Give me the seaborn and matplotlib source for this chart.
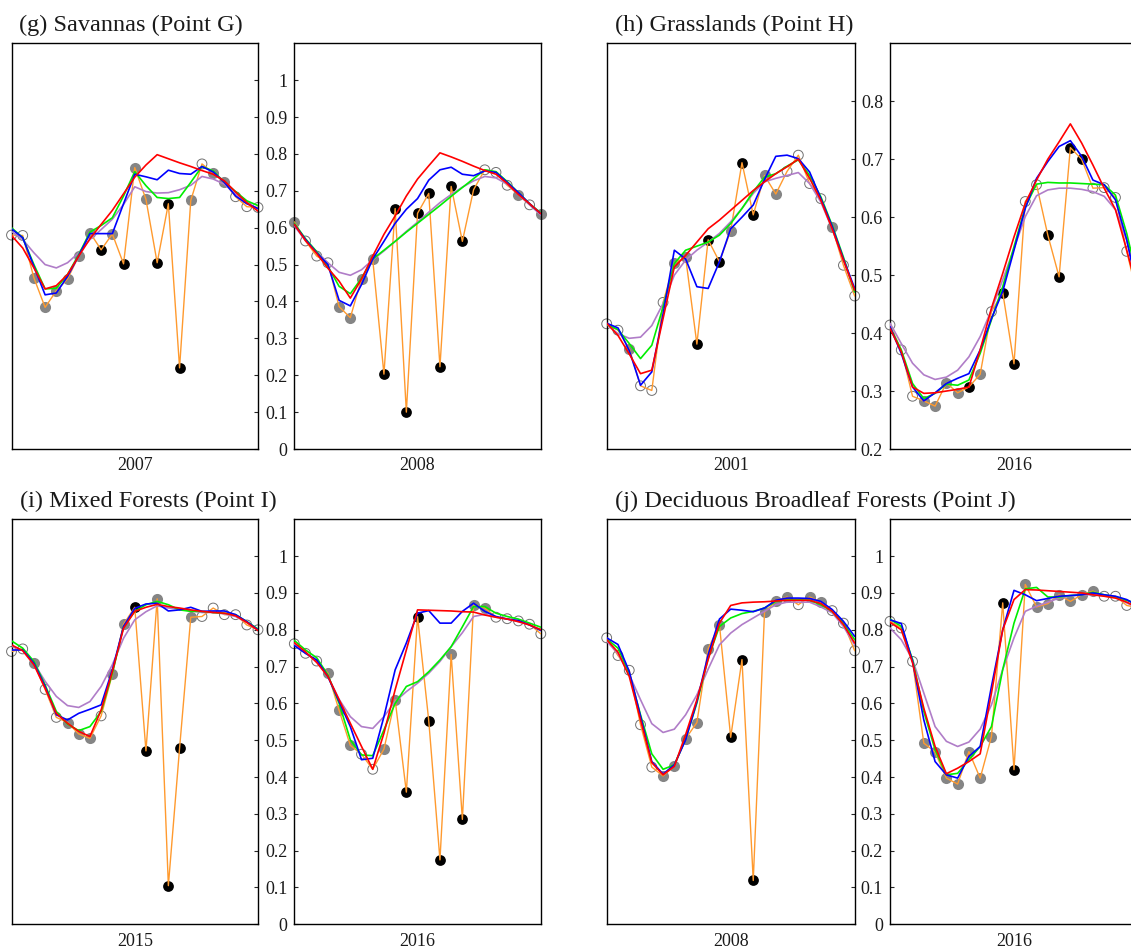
#!/usr/bin/env python3
"""
Seasonal NDVI-like time series at four sample points (g-j), two years each.
Raw observations (orange, marker = quality) and four smoothed reconstructions.

Output: out.png
"""
import matplotlib
matplotlib.use('Agg')
import matplotlib.pyplot as plt
from matplotlib.ticker import FormatStrFormatter
import pandas as pd
import seaborn as sns

# quality codes: O = open circle, G = grey dot, B = black dot
# ---- (g) Savannas ----
years_g = ['2007', '2008']
obs_g1 = [0.580, 0.579, 0.464, 0.384, 0.429, 0.461, 0.523, 0.587, 0.540, 0.583, 0.502, 0.763,
          0.677, 0.505, 0.665, 0.220, 0.674, 0.773, 0.748, 0.723, 0.684, 0.657, 0.655]
qual_g1 = 'OOGGGGGGBGBGGBBBGOGGOOO'
blue_g1 = [0.597, 0.573, 0.495, 0.418, 0.423, 0.468, 0.524, 0.584, 0.584, 0.584, 0.665, 0.745,
           0.738, 0.730, 0.756, 0.747, 0.745, 0.766, 0.751, 0.723, 0.686, 0.665, 0.652]
green_g1 = [0.600, 0.573, 0.500, 0.434, 0.436, 0.473, 0.527, 0.588, 0.606, 0.627, 0.686, 0.752,
            0.714, 0.682, 0.679, 0.682, 0.723, 0.766, 0.754, 0.723, 0.698, 0.673, 0.660]
red_g1 = [0.579, 0.545, 0.491, 0.434, 0.443, 0.473, 0.523, 0.570, 0.609, 0.647, 0.692, 0.737,
          0.770, 0.798, 0.787, 0.776, 0.766, 0.755, 0.745, 0.727, 0.697, 0.668, 0.645]
purple_g1 = [0.590, 0.568, 0.532, 0.500, 0.491, 0.505, 0.532, 0.568, 0.595, 0.623, 0.663, 0.711,
             0.698, 0.694, 0.695, 0.703, 0.715, 0.739, 0.732, 0.718, 0.691, 0.670, 0.650]

obs_g2 = [0.616, 0.564, 0.523, 0.505, 0.386, 0.356, 0.462, 0.514, 0.203, 0.652, 0.100, 0.639,
          0.693, 0.223, 0.712, 0.563, 0.703, 0.757, 0.750, 0.715, 0.690, 0.662, 0.636]
qual_g2 = 'GOOOGGGGBBBBBBBBBOOOGOG'
blue_g2 = [0.609, 0.568, 0.532, 0.500, 0.403, 0.388, 0.446, 0.515, 0.563, 0.612, 0.650, 0.679,
           0.729, 0.757, 0.764, 0.745, 0.741, 0.754, 0.750, 0.723, 0.695, 0.665, 0.638]
green_g2 = [0.612, 0.570, 0.535, 0.495, 0.441, 0.421, 0.463, 0.515, 0.539, 0.563, 0.588, 0.612,
            0.636, 0.660, 0.685, 0.709, 0.733, 0.757, 0.752, 0.725, 0.695, 0.665, 0.640]
red_g2 = [0.609, 0.565, 0.530, 0.490, 0.455, 0.409, 0.461, 0.523, 0.582, 0.632, 0.686, 0.732,
          0.768, 0.803, 0.792, 0.780, 0.767, 0.755, 0.745, 0.720, 0.690, 0.665, 0.638]
purple_g2 = [0.605, 0.565, 0.535, 0.505, 0.479, 0.471, 0.486, 0.513, 0.537, 0.563, 0.590, 0.615,
             0.642, 0.668, 0.690, 0.710, 0.727, 0.739, 0.735, 0.718, 0.690, 0.662, 0.635]

# ---- (h) Grasslands ----
years_h = ['2001', '2016']
obs_h1 = [0.416, 0.405, 0.373, 0.309, 0.301, 0.453, 0.521, 0.531, 0.381, 0.561, 0.523, 0.577,
          0.694, 0.604, 0.672, 0.640, 0.679, 0.707, 0.658, 0.632, 0.583, 0.517, 0.464]
qual_h1 = 'OOGOOOGGBBBGBBGGOOOOGOO'
blue_h1 = [0.417, 0.409, 0.370, 0.310, 0.333, 0.433, 0.543, 0.528, 0.480, 0.477, 0.523, 0.580,
           0.600, 0.621, 0.665, 0.705, 0.707, 0.701, 0.678, 0.632, 0.584, 0.528, 0.477]
green_h1 = [0.415, 0.406, 0.382, 0.356, 0.379, 0.445, 0.520, 0.543, 0.550, 0.557, 0.569, 0.589,
            0.615, 0.644, 0.669, 0.675, 0.688, 0.699, 0.672, 0.635, 0.586, 0.531, 0.471]
red_h1 = [0.417, 0.396, 0.364, 0.330, 0.336, 0.425, 0.514, 0.534, 0.557, 0.580, 0.595, 0.612,
          0.629, 0.646, 0.661, 0.675, 0.687, 0.700, 0.667, 0.629, 0.580, 0.526, 0.474]
purple_h1 = [0.415, 0.399, 0.391, 0.393, 0.413, 0.451, 0.500, 0.526, 0.543, 0.557, 0.572, 0.592,
             0.615, 0.641, 0.661, 0.667, 0.672, 0.677, 0.658, 0.626, 0.580, 0.526, 0.471]

obs_h2 = [0.414, 0.371, 0.291, 0.283, 0.274, 0.314, 0.297, 0.307, 0.329, 0.437, 0.470, 0.347,
          0.627, 0.656, 0.569, 0.497, 0.720, 0.700, 0.650, 0.651, 0.634, 0.541, 0.460]
qual_h2 = 'OOOGGGGBGOBBOOBBBBOOOOO'
blue_h2 = [0.411, 0.365, 0.307, 0.283, 0.297, 0.313, 0.322, 0.330, 0.371, 0.425, 0.472, 0.543,
           0.615, 0.667, 0.696, 0.722, 0.732, 0.705, 0.664, 0.656, 0.630, 0.561, 0.470]
green_h2 = [0.410, 0.371, 0.313, 0.287, 0.296, 0.312, 0.310, 0.319, 0.365, 0.423, 0.480, 0.549,
            0.618, 0.657, 0.660, 0.659, 0.659, 0.658, 0.657, 0.656, 0.638, 0.572, 0.490]
red_h2 = [0.408, 0.368, 0.307, 0.296, 0.297, 0.300, 0.303, 0.307, 0.371, 0.443, 0.503, 0.566,
          0.624, 0.664, 0.700, 0.730, 0.761, 0.728, 0.690, 0.650, 0.613, 0.543, 0.470]
purple_h2 = [0.417, 0.382, 0.348, 0.328, 0.320, 0.324, 0.336, 0.359, 0.394, 0.440, 0.492, 0.546,
             0.601, 0.637, 0.647, 0.650, 0.650, 0.648, 0.644, 0.636, 0.613, 0.560, 0.480]

# ---- (i) Mixed Forests ----
years_i = ['2015', '2016']
obs_i1 = [0.741, 0.748, 0.709, 0.638, 0.562, 0.548, 0.517, 0.505, 0.566, 0.679, 0.815, 0.861,
          0.471, 0.884, 0.105, 0.478, 0.834, 0.836, 0.859, 0.841, 0.841, 0.813, 0.800]
qual_i1 = 'OOGOOGGGOGGBBGBBGOOOOOO'
blue_i1 = [0.745, 0.745, 0.709, 0.646, 0.569, 0.555, 0.573, 0.584, 0.596, 0.691, 0.809, 0.858,
           0.870, 0.872, 0.851, 0.854, 0.861, 0.850, 0.851, 0.851, 0.841, 0.822, 0.800]
green_i1 = [0.770, 0.750, 0.714, 0.650, 0.578, 0.544, 0.526, 0.537, 0.578, 0.682, 0.809, 0.850,
            0.868, 0.877, 0.868, 0.854, 0.850, 0.850, 0.847, 0.845, 0.841, 0.822, 0.802]
red_i1 = [0.759, 0.743, 0.705, 0.641, 0.573, 0.546, 0.524, 0.510, 0.582, 0.687, 0.804, 0.850,
          0.861, 0.869, 0.863, 0.859, 0.854, 0.850, 0.847, 0.845, 0.838, 0.820, 0.798]
purple_i1 = [0.755, 0.745, 0.709, 0.660, 0.619, 0.594, 0.589, 0.605, 0.646, 0.705, 0.777, 0.827,
             0.849, 0.865, 0.859, 0.856, 0.851, 0.847, 0.847, 0.843, 0.836, 0.820, 0.798]

obs_i2 = [0.762, 0.736, 0.715, 0.682, 0.581, 0.486, 0.462, 0.421, 0.476, 0.610, 0.359, 0.836,
          0.553, 0.175, 0.733, 0.285, 0.868, 0.859, 0.834, 0.830, 0.824, 0.815, 0.789]
qual_i2 = 'OOOGGGOOGGBBBBGBGGOOOOO'
blue_i2 = [0.757, 0.736, 0.718, 0.673, 0.605, 0.537, 0.447, 0.451, 0.564, 0.691, 0.764, 0.845,
           0.852, 0.818, 0.818, 0.850, 0.872, 0.850, 0.836, 0.829, 0.825, 0.813, 0.798]
green_i2 = [0.771, 0.745, 0.724, 0.677, 0.600, 0.501, 0.460, 0.458, 0.528, 0.600, 0.646, 0.659,
            0.686, 0.718, 0.754, 0.808, 0.863, 0.863, 0.845, 0.836, 0.829, 0.818, 0.807]
red_i2 = [0.765, 0.740, 0.711, 0.673, 0.610, 0.546, 0.483, 0.421, 0.519, 0.637, 0.745, 0.854,
          0.853, 0.852, 0.851, 0.849, 0.848, 0.840, 0.834, 0.829, 0.822, 0.813, 0.800]
purple_i2 = [0.760, 0.737, 0.715, 0.673, 0.611, 0.564, 0.537, 0.532, 0.564, 0.605, 0.632, 0.655,
             0.682, 0.714, 0.754, 0.792, 0.836, 0.842, 0.834, 0.829, 0.822, 0.813, 0.800]

# ---- (j) Deciduous Broadleaf Forests ----
years_j = ['2008', '2016']
obs_j1 = [0.778, 0.730, 0.690, 0.542, 0.427, 0.403, 0.430, 0.504, 0.548, 0.748, 0.814, 0.508,
          0.719, 0.119, 0.848, 0.877, 0.889, 0.868, 0.889, 0.875, 0.852, 0.818, 0.743]
qual_j1 = 'OOOOOGGGGGGBBBGGGOGGOOO'
blue_j1 = [0.778, 0.760, 0.687, 0.565, 0.442, 0.408, 0.433, 0.501, 0.605, 0.732, 0.829, 0.856,
           0.853, 0.849, 0.859, 0.880, 0.886, 0.886, 0.885, 0.877, 0.855, 0.823, 0.782]
green_j1 = [0.775, 0.750, 0.682, 0.569, 0.463, 0.421, 0.433, 0.503, 0.601, 0.723, 0.809, 0.832,
            0.844, 0.850, 0.859, 0.877, 0.882, 0.882, 0.880, 0.868, 0.850, 0.818, 0.773]
red_j1 = [0.773, 0.739, 0.673, 0.555, 0.439, 0.406, 0.429, 0.515, 0.610, 0.719, 0.818, 0.866,
          0.873, 0.875, 0.876, 0.878, 0.880, 0.880, 0.880, 0.871, 0.850, 0.814, 0.764]
purple_j1 = [0.769, 0.735, 0.678, 0.610, 0.545, 0.521, 0.530, 0.569, 0.623, 0.693, 0.759, 0.791,
             0.814, 0.832, 0.850, 0.868, 0.875, 0.875, 0.875, 0.862, 0.846, 0.809, 0.759]

obs_j2 = [0.823, 0.805, 0.714, 0.492, 0.468, 0.397, 0.381, 0.469, 0.397, 0.510, 0.873, 0.420,
          0.923, 0.862, 0.871, 0.895, 0.877, 0.895, 0.905, 0.891, 0.891, 0.866, 0.860]
qual_j2 = 'OOOGGGGGGGBBGGGGGGGOOOO'
blue_j2 = [0.827, 0.817, 0.714, 0.555, 0.442, 0.406, 0.397, 0.456, 0.483, 0.646, 0.800, 0.907,
           0.895, 0.879, 0.885, 0.891, 0.893, 0.895, 0.900, 0.895, 0.891, 0.882, 0.865]
green_j2 = [0.829, 0.809, 0.719, 0.578, 0.474, 0.406, 0.410, 0.447, 0.483, 0.537, 0.692, 0.818,
            0.911, 0.915, 0.889, 0.889, 0.893, 0.895, 0.902, 0.895, 0.889, 0.880, 0.870]
red_j2 = [0.820, 0.800, 0.710, 0.587, 0.483, 0.409, 0.424, 0.442, 0.463, 0.628, 0.800, 0.882,
          0.909, 0.908, 0.906, 0.904, 0.902, 0.900, 0.895, 0.891, 0.886, 0.875, 0.860]
purple_j2 = [0.805, 0.773, 0.719, 0.628, 0.537, 0.497, 0.483, 0.495, 0.530, 0.596, 0.692, 0.778,
             0.850, 0.864, 0.875, 0.886, 0.891, 0.895, 0.895, 0.893, 0.889, 0.873, 0.858]

titles = ['(g) Savannas (Point G)', '(h) Grasslands (Point H)',
          '(i) Mixed Forests (Point I)', '(j) Deciduous Broadleaf Forests (Point J)']

FIG_W, FIG_H = 1131, 949
C_ORANGE = '#ff9a2e'
C_PURPLE = '#b07dc8'
C_GREY = '#858585'
TXT = '#1a1a1a'


def series_frame(obs, qual, blue, green, red, purple):
    return pd.DataFrame({
        'doy': list(range(len(obs))),
        'obs': obs, 'qual': list(qual),
        'blue': blue, 'green': green, 'red': red, 'purple': purple,
    })


def draw(ax, df):
    marker_styles = {
        'O': dict(s=50, facecolor='none', edgecolor='#707070', linewidth=0.7),
        'G': dict(s=64, color=C_GREY, edgecolor=C_GREY, linewidth=0),
        'B': dict(s=60, color='black', edgecolor='black', linewidth=0),
    }
    for q, kw in marker_styles.items():
        sub = df[df['qual'] == q]
        if len(sub):
            sns.scatterplot(data=sub, x='doy', y='obs', ax=ax, legend=False,
                            zorder=2, clip_on=False, **kw)
    sns.lineplot(data=df, x='doy', y='obs', ax=ax, color=C_ORANGE, lw=1.0,
                 estimator=None, sort=False, legend=False, zorder=3)
    for col, c in [('purple', C_PURPLE), ('green', '#00ee00'), ('blue', '#0000ff'), ('red', '#ff0000')]:
        sns.lineplot(data=df, x='doy', y=col, ax=ax, color=c, lw=1.2,
                     estimator=None, sort=False, legend=False, zorder=4)


def add_axes_px(fig, x0, y_top, w, h):
    return fig.add_axes([x0 / FIG_W, 1 - (y_top + h) / FIG_H, w / FIG_W, h / FIG_H])


def style_pair(ax_l, ax_r, years, ylim, yticks):
    for ax, yr in [(ax_l, years[0]), (ax_r, years[1])]:
        ax.set_xlim(0, 22)
        ax.set_ylim(*ylim)
        ax.set_yticks(yticks)
        ax.yaxis.set_major_formatter(FormatStrFormatter('%g'))
        ax.set_xticks([11])
        ax.set_xticklabels([yr])
        ax.tick_params(axis='x', length=0, pad=6, labelsize=13, labelcolor=TXT)
        ax.set_xlabel('')
        ax.set_ylabel('')
        for sp in ax.spines.values():
            sp.set_visible(True)
            sp.set_color('black')
            sp.set_linewidth(1.0)
    ax_l.yaxis.tick_right()
    ax_l.tick_params(axis='y', direction='in', length=3, width=0.8, labelright=False,
                     right=True, left=False)
    ax_r.tick_params(axis='y', direction='in', length=3, width=0.8, labelleft=True,
                     left=True, right=False, labelsize=13, labelcolor=TXT, pad=5)


def main():
    sns.set_style('white')
    plt.rcParams['font.family'] = ['Liberation Serif', 'DejaVu Serif']

    fig = plt.figure(figsize=(FIG_W / 100, FIG_H / 100), dpi=100)

    panels = [
        (years_g, (obs_g1, qual_g1, blue_g1, green_g1, red_g1, purple_g1),
         (obs_g2, qual_g2, blue_g2, green_g2, red_g2, purple_g2)),
        (years_h, (obs_h1, qual_h1, blue_h1, green_h1, red_h1, purple_h1),
         (obs_h2, qual_h2, blue_h2, green_h2, red_h2, purple_h2)),
        (years_i, (obs_i1, qual_i1, blue_i1, green_i1, red_i1, purple_i1),
         (obs_i2, qual_i2, blue_i2, green_i2, red_i2, purple_i2)),
        (years_j, (obs_j1, qual_j1, blue_j1, green_j1, red_j1, purple_j1),
         (obs_j2, qual_j2, blue_j2, green_j2, red_j2, purple_j2)),
    ]
    # pixel layout: (left x of left axes, left x of right axes, width, top y, height)
    layout = [
        (11.5, 294.3, 246.5, 43.3, 405.7),
        (606.7, 890.0, 248.0, 43.3, 405.7),
        (11.5, 294.3, 246.5, 519.3, 405.0),
        (606.7, 890.0, 248.0, 519.3, 405.0),
    ]
    title_pos = [(19, 25), (615, 25), (20, 501), (615, 501)]
    full_ticks = [0, 0.1, 0.2, 0.3, 0.4, 0.5, 0.6, 0.7, 0.8, 0.9, 1.0]

    for k, (years, left, right) in enumerate(panels):
        xl, xr, w, top, h = layout[k]
        ax_l = add_axes_px(fig, xl, top, w, h)
        ax_r = add_axes_px(fig, xr, top, w, h)
        draw(ax_l, series_frame(*left))
        draw(ax_r, series_frame(*right))
        if k == 1:
            style_pair(ax_l, ax_r, years, (0.2, 0.9), [0.2, 0.3, 0.4, 0.5, 0.6, 0.7, 0.8])
        else:
            style_pair(ax_l, ax_r, years, (0, 1.1), full_ticks)
        tx, ty = title_pos[k]
        fig.text(tx / FIG_W, 1 - ty / FIG_H, titles[k], ha='left', va='center',
                 fontsize=17.5, color=TXT)

    fig.savefig('out.png', dpi=100)
    plt.close(fig)


if __name__ == '__main__':
    main()
